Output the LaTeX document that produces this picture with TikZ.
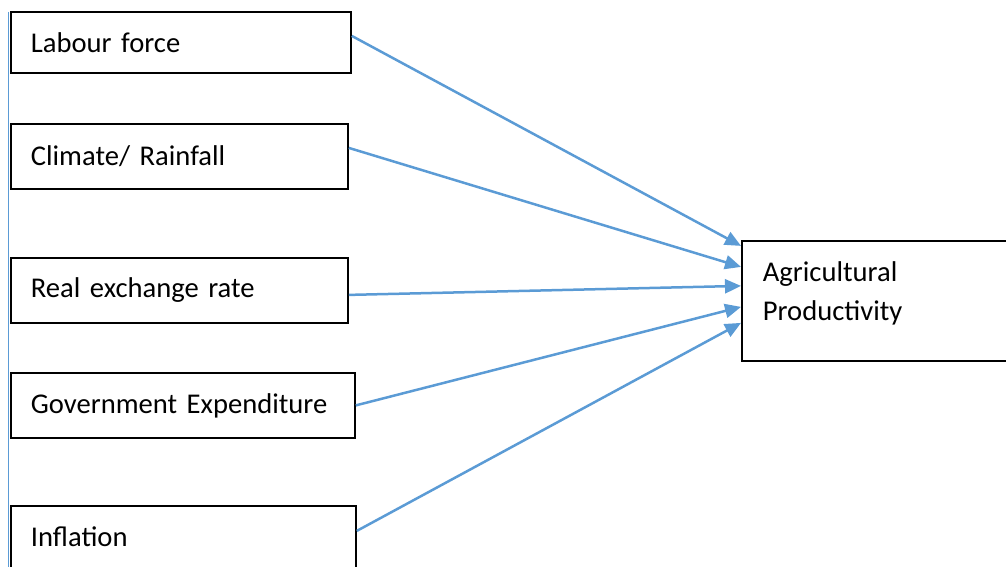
\documentclass[tikz,border=0pt]{standalone}
\usepackage{fontspec}
\setmainfont{Carlito}
\usetikzlibrary{arrows.meta}
\definecolor{arrowblue}{RGB}{91,155,213}
\tikzset{
  box/.style={draw=black, line width=1.8pt, fill=white, anchor=north west, align=left,
    inner xsep=20pt, inner ysep=0pt, font=\fontsize{28.6}{39}\selectfont},
  conn/.style={draw=arrowblue, line width=2.5pt, -{Triangle[length=16pt,width=14pt]}},
  vline/.style={draw=arrowblue, line width=1.2pt}
}
\begin{document}
\begin{tikzpicture}[x=1pt,y=-1pt]
\useasboundingbox (0,0) rectangle (1006,567);
\clip (0,0) rectangle (1006,567);
\coordinate (vtop) at (8.5,12);
\coordinate (vbot) at (8.5,580);
\draw[vline] (vtop) -- (vbot);
\node[box, minimum height=61pt, text width=300pt] (lf) at (10,11) {Labour force};
\node[box, minimum height=65pt, text width=297pt] (cr) at (10,123) {Climate/ Rainfall};
\node[box, minimum height=65pt, text width=297pt] (rer) at (10,257) {Real exchange rate};
\node[box, minimum height=65pt, text width=304pt] (ge) at (10,372) {Government Expenditure};
\node[box, minimum height=62pt, text width=305pt] (inf) at (10,505) {Inflation};
\node[box, minimum height=120pt, text width=260pt, inner xsep=21pt] (ap) at (741,240)
  {Agricultural\\Productivity\rule[-20pt]{0pt}{0pt}};
\draw[conn] ([yshift=6.5pt]lf.east) -- ([yshift=55pt]ap.west);
\draw[conn] ([yshift=8.5pt]cr.east) -- ([yshift=34pt]ap.west);
\draw[conn] ([yshift=-4.5pt]rer.east) -- ([yshift=15pt]ap.west);
\draw[conn] (ge.east) -- ([yshift=-6pt]ap.west);
\draw[conn] ([yshift=6pt]inf.east) -- ([yshift=-22pt]ap.west);
\end{tikzpicture}
\end{document}
